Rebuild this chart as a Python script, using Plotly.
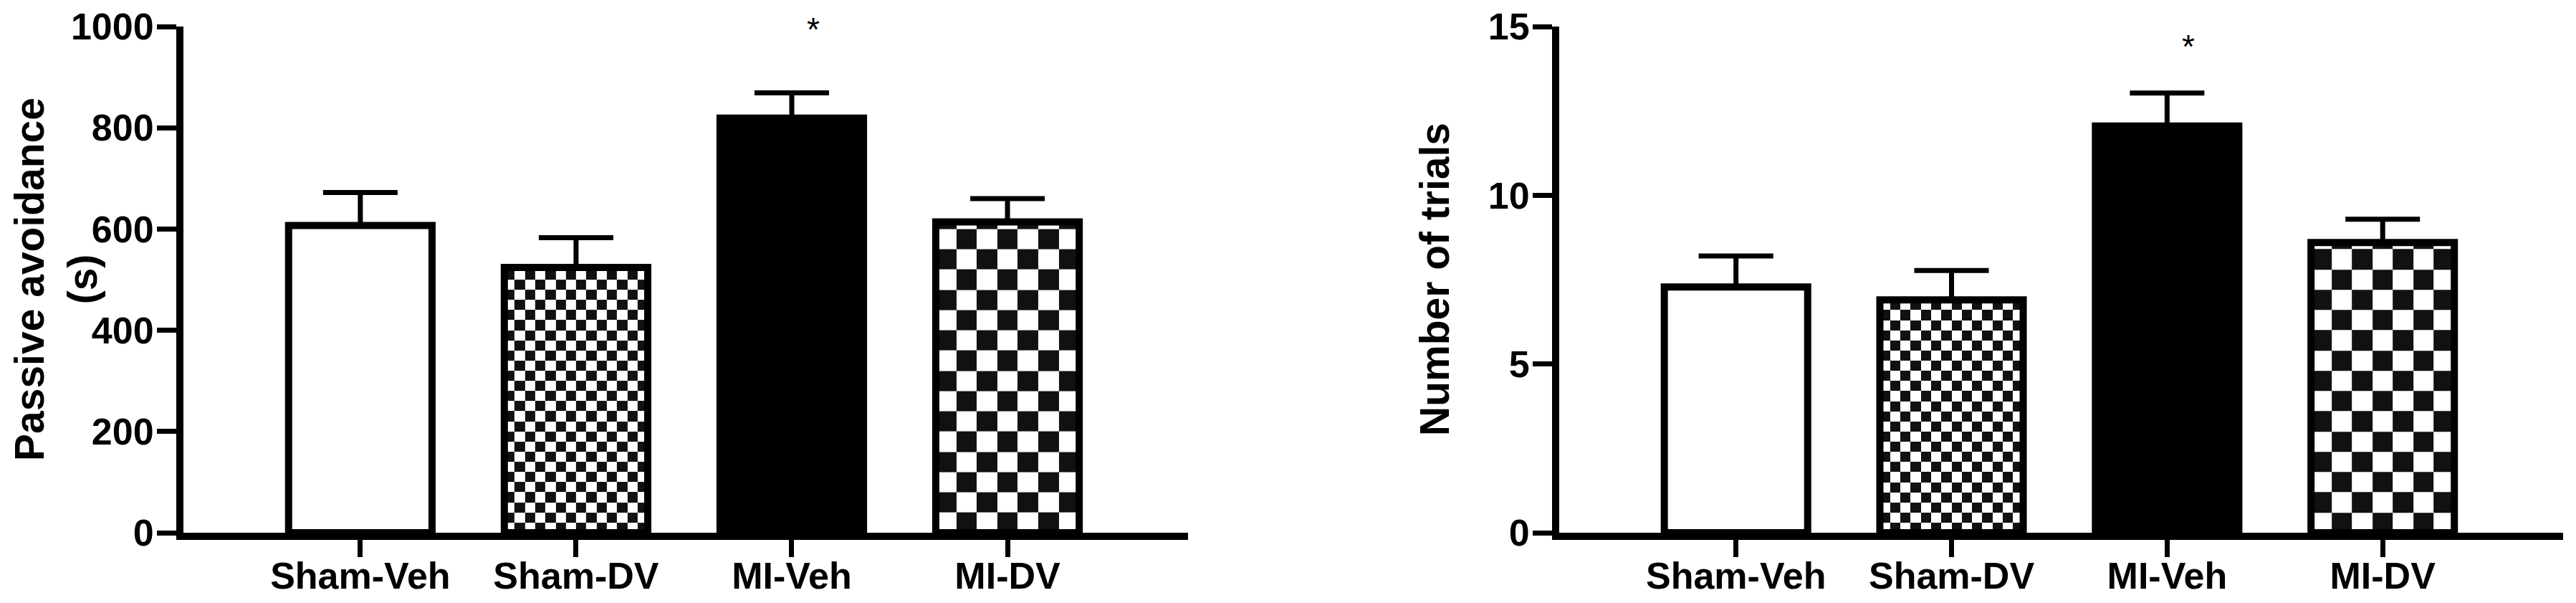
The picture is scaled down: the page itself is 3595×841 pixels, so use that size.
import numpy as np
import plotly.graph_objects as go

# ---------------- data ----------------
categories = ["Sham-Veh", "Sham-DV", "MI-Veh", "MI-DV"]
avoid_mean = [607, 524, 819, 614]
avoid_sem = [65, 59, 50, 46]
trials_mean = [7.28, 6.90, 12.05, 8.60]
trials_sem = [0.92, 0.87, 0.98, 0.69]
fills = ["white", "checker_small", "black", "checker_large"]
avoid_ticks = [0, 200, 400, 600, 800, 1000]
trials_ticks = [0, 5, 10, 15]
star_avoid = 995
star_trials = 14.4

W, H = 3595, 841
BAR_W = 0.665
FONT = "Liberation Sans, Arial, Helvetica, sans-serif"
DARK = "#111111"

fig = go.Figure()

def add_panel(xa, ya, means, sems, cell_small, star_y):
    xs = list(range(len(categories)))
    # checkerboard fills drawn as heatmaps inside the bars
    for i, (m, f) in enumerate(zip(means, fills)):
        if not f.startswith("checker"):
            continue
        ncols = 14 if f == "checker_small" else 7
        cell = cell_small if f == "checker_small" else 2 * cell_small
        xe = np.linspace(xs[i] - BAR_W / 2, xs[i] + BAR_W / 2, ncols + 1)
        ye = list(np.arange(0, m, cell))
        if m - ye[-1] > 1e-9:
            ye.append(m)
        ye = np.array(ye)
        nrows = len(ye) - 1
        z = [[(r + c) % 2 for c in range(ncols)] for r in range(nrows)]
        fig.add_trace(go.Heatmap(
            x=xe, y=ye, z=z, xaxis=xa, yaxis=ya,
            colorscale=[[0, "white"], [1, DARK]], zmin=0, zmax=1,
            showscale=False, hoverinfo="skip", zsmooth=False,
        ))
    colors = []
    for f in fills:
        if f == "white":
            colors.append("white")
        elif f == "black":
            colors.append("black")
        else:
            colors.append("rgba(0,0,0,0)")
    fig.add_trace(go.Bar(
        x=xs, y=means, width=BAR_W, xaxis=xa, yaxis=ya,
        marker=dict(color=colors, line=dict(color="black", width=10)),
        error_y=dict(type="data", array=sems, arrayminus=[0] * len(sems),
                     symmetric=False, color="black", thickness=7, width=52),
        showlegend=False,
    ))
    fig.add_annotation(x=2 + 0.1, y=star_y, xref=xa, yref=ya, text="*",
                       showarrow=False, yanchor="middle",
                       font=dict(family=FONT, size=46, color="black"))

add_panel("x", "y", avoid_mean, avoid_sem, 20, star_avoid)
add_panel("x2", "y2", trials_mean, trials_sem, 0.3, star_trials)

ydom = [(H - 743) / H, (H - 37) / H]
tickfont = dict(family=FONT, size=52, color="black", weight="bold")
common_x = dict(range=[-0.82, 3.837], tickvals=list(range(4)), ticktext=categories,
                showline=True, linewidth=10, linecolor="black", ticks="outside",
                ticklen=24, tickwidth=7, tickcolor="black", showgrid=False,
                zeroline=False, tickfont=tickfont, fixedrange=True, automargin=False,
                ticklabelstandoff=-18)
common_y = dict(showline=True, linewidth=10, linecolor="black", ticks="outside",
                ticklen=27, tickwidth=7, tickcolor="black", showgrid=False,
                zeroline=False, tickfont=tickfont, domain=ydom, automargin=False,
                ticklabelstandoff=-6)

fig.update_layout(
    width=W, height=H, autosize=False,
    margin=dict(l=0, r=0, t=0, b=0, pad=0, autoexpand=False),
    paper_bgcolor="white", plot_bgcolor="white",
    showlegend=False, barmode="overlay",
    xaxis=dict(domain=[256 / W, 1658 / W], anchor="y", **common_x),
    xaxis2=dict(domain=[2176 / W, 3577 / W], anchor="y2", **common_x),
    yaxis=dict(range=[0, 1000], tickvals=avoid_ticks, anchor="x", **common_y),
    yaxis2=dict(range=[0, 15], tickvals=trials_ticks, anchor="x2", **common_y),
)

ymid = (ydom[0] + ydom[1]) / 2
titlefont = dict(family=FONT, size=57, color="black", weight="bold")
fig.add_annotation(x=78 / W, y=ymid, xref="paper", yref="paper",
                   text="Passive avoidance<br>(s)", textangle=-90, showarrow=False,
                   xanchor="center", yanchor="middle", font=titlefont)
fig.add_annotation(x=2002 / W, y=ymid, xref="paper", yref="paper",
                   text="Number of trials", textangle=-90, showarrow=False,
                   xanchor="center", yanchor="middle", font=titlefont)

fig.write_html("out.html", config={"displayModeBar": False},
               post_script="document.body.style.margin='0';document.body.style.overflow='hidden';")
